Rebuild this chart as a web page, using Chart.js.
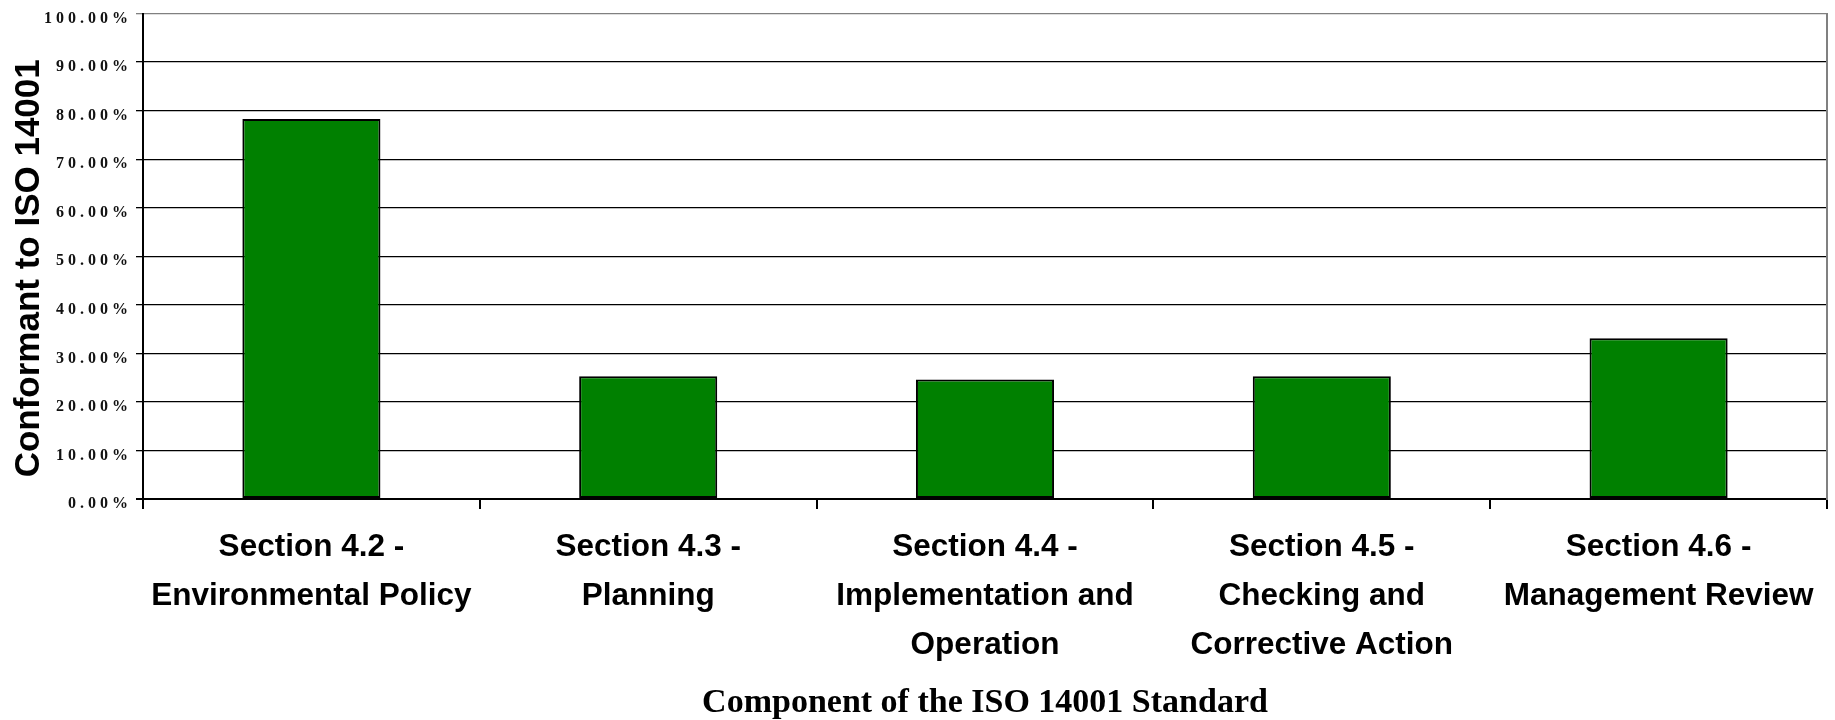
<!DOCTYPE html>
<html>
<head>
<meta charset="utf-8">
<title>Conformance to ISO 14001</title>
<script src="https://cdn.jsdelivr.net/npm/chart.js@4/dist/chart.umd.min.js"></script>
<style>
    html, body { margin: 0; padding: 0; background: #ffffff; }
    #wrap { width: 1835px; height: 720px; position: relative; }
</style>
</head>
<body>
<div id="wrap"><canvas id="chart"></canvas></div>
<script>
/* Categories, one array of lines per bar */
var sections = [
    ['Section 4.2 -', 'Environmental Policy'],
    ['Section 4.3 -', 'Planning'],
    ['Section 4.4 -', 'Implementation and', 'Operation'],
    ['Section 4.5 -', 'Checking and', 'Corrective Action'],
    ['Section 4.6 -', 'Management Review'],
];

/* Percent conformant */
var conformance = [78.3, 25.3, 24.6, 25.3, 33.1];

var yMin = 0;
var yMax = 100;
var yStep = 10;

var xTitle = 'Component of the ISO 14001 Standard';
var yTitle = 'Conformant to ISO 14001';


/*
 * Small tweaks to the y axis drawing: spread out the tick labels
 * and drop the axis title a bit, like the original
 */
var yAxisTweaks = {
    id: 'yAxisTweaks',
    beforeDraw: function(chart) {
        var scale = chart.scales.y;
        if (scale._tweaked) {
            return;
        }
        var drawLabels = scale.drawLabels;
        scale.drawLabels = function(area) {
            var ctx = this.ctx;
            var prev = ctx.letterSpacing;
            ctx.letterSpacing = '4px';
            drawLabels.call(this, area);
            ctx.letterSpacing = prev || '0px';
        };
        var drawTitle = scale.drawTitle;
        scale.drawTitle = function() {
            var ctx = this.ctx;
            ctx.save();
            ctx.translate(0, 12);
            drawTitle.call(this);
            ctx.restore();
        };
        scale._tweaked = true;
    }
};


function loadSectionChart(context) {
    return new Chart(context, {
        type: 'bar',
        data: {
            labels: sections,
            datasets: [{
                data: conformance,
                backgroundColor: '#008000',
                borderColor: '#000000',
                borderWidth: 2,
                borderSkipped: false,
                categoryPercentage: 1.0,
                barPercentage: 0.41,
            }]
        },
        options: {
            responsive: true,
            maintainAspectRatio: false,
            animation: false,
            events: [],
            layout: {
                padding: {top: 12, right: 8, left: 0, bottom: 0}
            },
            plugins: {
                legend: {display: false},
                tooltip: {enabled: false},
            },
            scales: {
                x: {
                    offset: true,
                    grid: {
                        drawOnChartArea: false,
                        drawTicks: true,
                        tickLength: 10,
                        color: '#000000',
                        lineWidth: 2,
                    },
                    border: {color: '#000000', width: 2},
                    ticks: {
                        autoSkip: false,
                        maxRotation: 0,
                        minRotation: 0,
                        padding: 14,
                        color: '#000000',
                        font: {family: '"Liberation Sans", Arial, sans-serif', size: 31.5, weight: 'bold', lineHeight: 1.55},
                    },
                    title: {
                        display: true,
                        text: xTitle,
                        color: '#000000',
                        padding: {top: 0, bottom: 0},
                        font: {family: '"Liberation Serif", "Times New Roman", serif', size: 34, weight: 'bold', lineHeight: 1.0},
                    },
                    afterFit: function(scale) {
                        scale.height = 221;
                    }
                },
                y: {
                    min: yMin,
                    max: yMax,
                    grid: {
                        color: function(ctx) {
                            return ctx.tick && ctx.tick.value === yMax ? '#808080' : '#000000';
                        },
                        lineWidth: function(ctx) {
                            return ctx.tick && ctx.tick.value === yMin ? 2 : 1.3;
                        },
                        tickLength: 7,
                        drawTicks: true,
                    },
                    border: {color: '#000000', width: 2},
                    ticks: {
                        stepSize: yStep,
                        padding: 4,
                        labelOffset: 5,
                        color: '#111111',
                        font: {family: '"Liberation Serif", "Times New Roman", serif', size: 16, weight: 'bold'},
                        callback: function(value) {
                            return value.toFixed(2) + '%';
                        }
                    },
                    title: {
                        display: true,
                        text: yTitle,
                        color: '#000000',
                        padding: {top: 8, bottom: 0},
                        font: {family: '"Liberation Sans", Arial, sans-serif', size: 35, weight: 'bold', lineHeight: 1.2},
                    },
                    afterFit: function(scale) {
                        scale.width = 143;
                    }
                },
                y2: {
                    position: 'right',
                    min: yMin,
                    max: yMax,
                    grid: {drawOnChartArea: false, drawTicks: false},
                    border: {color: '#808080', width: 2},
                    ticks: {display: false},
                    afterFit: function(scale) {
                        scale.width = 0;
                    }
                }
            }
        },
        plugins: [yAxisTweaks]
    });
}

loadSectionChart(document.getElementById('chart'));
</script>
</body>
</html>
